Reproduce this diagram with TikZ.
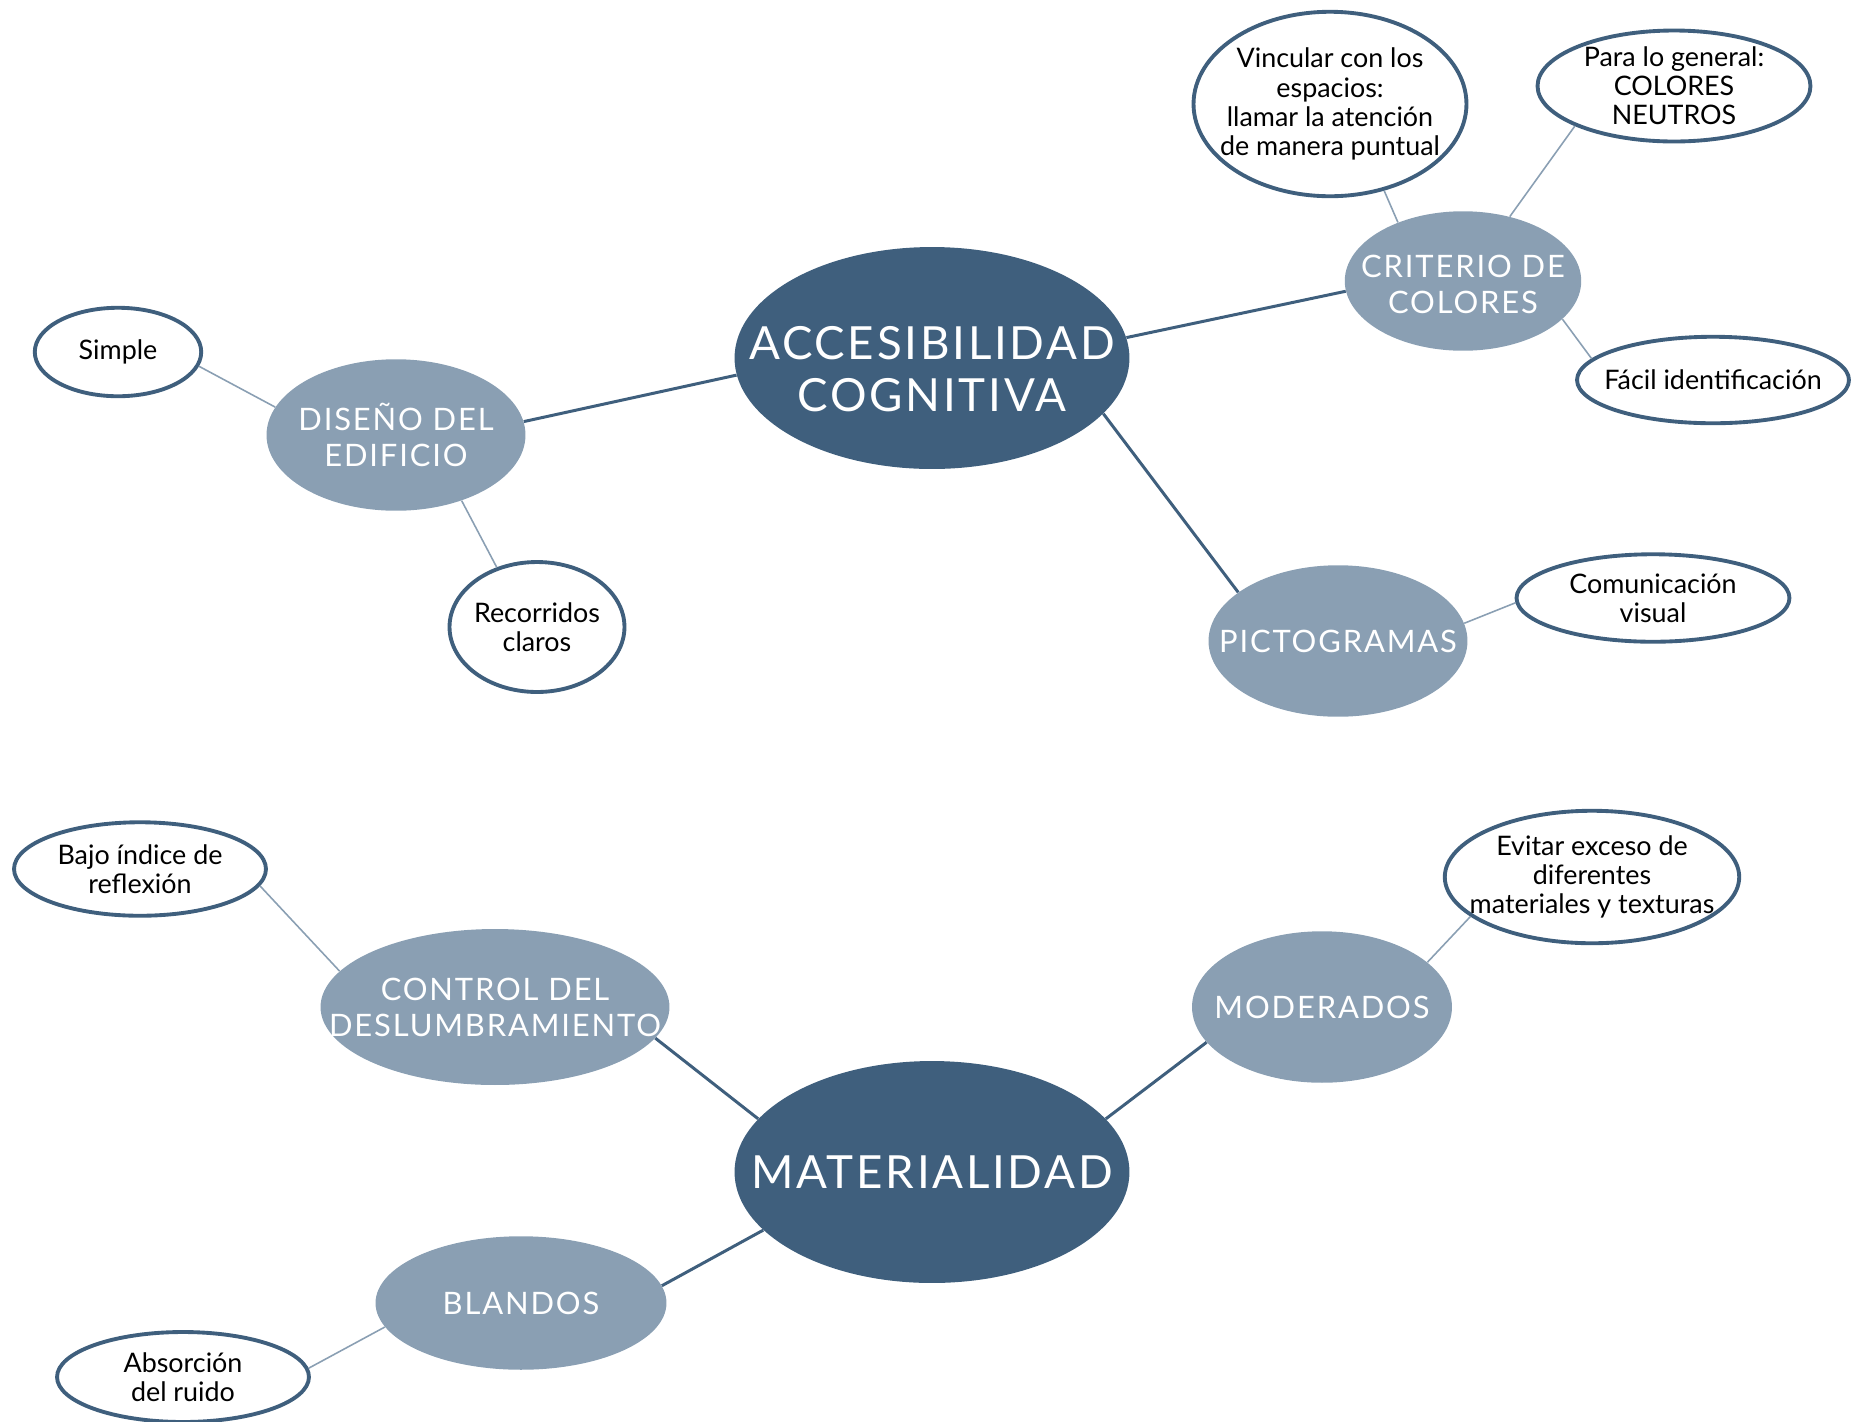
\documentclass[tikz,border=0pt]{standalone}
\usepackage{fontspec}
\setmainfont{Lato}
\newfontfamily\headfont[LetterSpace=6]{Lato}
\usetikzlibrary{shapes.geometric}
\definecolor{deepblue}{HTML}{3F5F7D}
\definecolor{paleblue}{HTML}{8A9FB3}
\tikzset{
  hub/.style={ellipse, fill=deepblue, inner sep=0pt, minimum width=7.9cm, minimum height=4.44cm},
  topic/.style={ellipse, fill=paleblue, inner sep=0pt},
  leaf/.style={ellipse, draw=deepblue, line width=2.2pt, fill=white, inner sep=0pt},
  hubtext/.style={font=\headfont\fontsize{26}{29.5}\selectfont, text=white, align=center},
  topictext/.style={font=\headfont\fontsize{17.6}{20.5}\selectfont, text=white, align=center},
  leaftext/.style={font=\fontsize{15.3}{16.6}\selectfont, align=center},
  trunk/.style={draw=deepblue, line width=1.7pt},
  twig/.style={draw=paleblue, line width=0.9pt}
}
\begin{document}
\begin{tikzpicture}[x=0.02cm,y=-0.02cm]
\useasboundingbox (0,0) rectangle (1854,1421);
% accesibilidad cognitiva
\node[hub, label={[hubtext, yshift=-0.22cm]center:{ACCESIBILIDAD\\COGNITIVA}}] (acc) at (932,358) {};
\node[topic, minimum width=4.73cm, minimum height=2.79cm, label={[topictext, yshift=-0.06cm]center:{CRITERIO DE\\COLORES}}] (criterio) at (1463,281) {};
\node[topic, minimum width=5.18cm, minimum height=3.03cm, label={[topictext]center:{PICTOGRAMAS}}] (picto) at (1338,641) {};
\node[topic, minimum width=5.18cm, minimum height=3.03cm, label={[topictext]center:{DISEÑO DEL\\EDIFICIO}}] (diseno) at (396,435) {};
\node[leaf, minimum width=5.46cm, minimum height=3.69cm, label={[leaftext]center:{Vincular con los\\espacios:\\llamar la atención\\de manera puntual}}] (vincular) at (1330,104) {};
\node[leaf, minimum width=5.46cm, minimum height=2.22cm, label={[leaftext]center:{Para lo general:\\COLORES\\NEUTROS}}] (para) at (1674,86) {};
\node[leaf, minimum width=5.44cm, minimum height=1.73cm, label={[leaftext]center:{Fácil identificación}}] (facil) at (1713,380) {};
\node[leaf, minimum width=5.46cm, minimum height=1.75cm, label={[leaftext]center:{Comunicación\\visual}}] (comunic) at (1653,598) {};
\node[leaf, minimum width=3.33cm, minimum height=1.77cm, label={[leaftext]center:{Simple}}] (simple) at (118,352) {};
\node[leaf, minimum width=3.5cm, minimum height=2.6cm, label={[leaftext]center:{Recorridos\\claros}}] (recorridos) at (537,627) {};
% materialidad
\node[hub, label={[hubtext]center:{MATERIALIDAD}}] (mat) at (932,1172) {};
\node[topic, minimum width=6.98cm, minimum height=3.12cm, label={[topictext]center:{CONTROL DEL\\DESLUMBRAMIENTO}}] (control) at (495,1007) {};
\node[topic, minimum width=5.2cm, minimum height=3.03cm, label={[topictext]center:{MODERADOS}}] (moderados) at (1322,1007) {};
\node[topic, minimum width=5.82cm, minimum height=2.67cm, label={[topictext]center:{BLANDOS}}] (blandos) at (521,1303) {};
\node[leaf, minimum width=5.04cm, minimum height=1.87cm, label={[leaftext]center:{Bajo índice de\\reflexión}}] (bajo) at (140,869) {};
\node[leaf, minimum width=5.89cm, minimum height=2.65cm, label={[leaftext]center:{Evitar exceso de\\diferentes\\materiales y texturas}}] (evitar) at (1592,877) {};
\node[leaf, minimum width=5.04cm, minimum height=1.8cm, label={[leaftext]center:{Absorción\\del ruido}}] (absorcion) at (183,1377) {};
% connectors
\draw[trunk] (acc.185) -- (diseno.6);
\draw[trunk] (acc.6) -- (criterio.185);
\draw[trunk] (acc.-18) -- (picto.154);
\draw[twig] (criterio.138) -- (vincular.-58);
\draw[twig] (criterio.54) -- (para.-158);
\draw[twig] (criterio.-21) -- (facil.170);
\draw[twig] (picto.8) -- (comunic.182);
\draw[twig] (diseno.167) -- (simple.-10);
\draw[twig] (diseno.-45) -- (recorridos.124);
\draw[trunk] (mat.163) -- (control.-11);
\draw[trunk] (mat.17) -- (moderados.-163);
\draw[trunk] (mat.199) -- (blandos.7);
\draw[twig] (control.167) -- (bajo.-8);
\draw[twig] (moderados.23) -- (evitar.198);
\draw[twig] (blandos.190) -- (absorcion.4);
\end{tikzpicture}
\end{document}
